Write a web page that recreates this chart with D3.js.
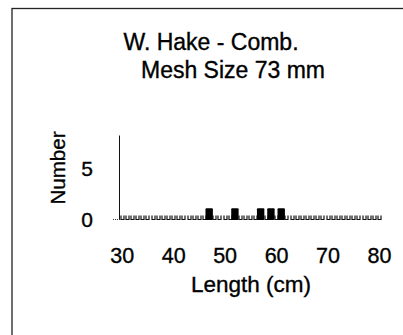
<!DOCTYPE html>
<html>
<head>
<meta charset="utf-8">
<script src="https://cdn.jsdelivr.net/npm/d3@7"></script>
<style>
  body { margin: 0; background: #fff; }
  svg { display: block; font-family: "Liberation Sans", Arial, sans-serif; }
  svg text { fill: #000; stroke: #000; stroke-width: 0.35px; }
</style>
</head>
<body>
<script>
const titleLines = ['W. Hake - Comb.', 'Mesh Size 73 mm'];
const lengths = [30, 31, 32, 33, 34, 35, 36, 37, 38, 39,
                 40, 41, 42, 43, 44, 45, 46, 47, 48, 49,
                 50, 51, 52, 53, 54, 55, 56, 57, 58, 59,
                 60, 61, 62, 63, 64, 65, 66, 67, 68, 69,
                 70, 71, 72, 73, 74, 75, 76, 77, 78, 79,
                 80];
const counts = [0, 0, 0, 0, 0, 0, 0, 0, 0, 0,
                0, 0, 0, 0, 0, 0, 0, 1, 0, 0,
                0, 0, 1, 0, 0, 0, 0, 1, 0, 1,
                0, 1, 0, 0, 0, 0, 0, 0, 0, 0,
                0, 0, 0, 0, 0, 0, 0, 0, 0, 0,
                0];
const xTicks = [30, 40, 50, 60, 70, 80];
const yTicks = [0, 5];

const width = 403;
const height = 335;

const svg = d3.select('body')
  .append('svg')
  .attr('width', width)
  .attr('height', height);

// frame (runs off the right and bottom edges)
svg.append('rect')
  .attr('x', 12)
  .attr('y', 8.5)
  .attr('width', 420)
  .attr('height', 360)
  .attr('fill', 'none')
  .attr('stroke', '#222')
  .attr('stroke-width', 1.3);

const x = d3.scaleLinear().domain([30, 80]).range([121.7, 379]);
const y = d3.scaleLinear().domain([0, 8.2]).range([220, 135.5]);

const data = lengths.map((l, i) => ({ length: l, count: counts[i] }));

// title
svg.selectAll('.title')
  .data(titleLines)
  .enter()
  .append('text')
  .attr('class', 'title')
  .attr('x', (d, i) => i === 0 ? 211 : 233)
  .attr('y', (d, i) => 50 + i * 28)
  .attr('text-anchor', 'middle')
  .attr('font-size', 23)
  .text(d => d);

// y axis
const yAxis = svg.append('g')
  .attr('transform', 'translate(119,0)')
  .call(d3.axisLeft(y).tickValues(yTicks).tickSize(0).tickPadding(26));
yAxis.select('.domain').remove();
yAxis.selectAll('text')
  .attr('font-size', 21);

svg.append('line')
  .attr('x1', 119.5).attr('x2', 119.5)
  .attr('y1', y.range()[1]).attr('y2', y(0))
  .attr('stroke', '#111')
  .attr('stroke-width', 1);

// dotted stub left of the origin
svg.append('line')
  .attr('x1', 113).attr('x2', 120)
  .attr('y1', y(0) - 0.5).attr('y2', y(0) - 0.5)
  .attr('stroke', '#333')
  .attr('stroke-dasharray', '1,1');

// x axis labels
const xAxis = svg.append('g')
  .attr('transform', `translate(0,${ y(0) })`)
  .call(d3.axisBottom(x).tickValues(xTicks).tickSize(0).tickPadding(28));
xAxis.select('.domain').remove();
xAxis.selectAll('text')
  .attr('font-size', 21.5);

// empty bins drawn as tiny open bars
svg.append('g')
  .selectAll('path')
  .data(data.filter(d => d.count === 0))
  .enter()
  .append('path')
  .attr('d', d => {
    const cx = Math.round(x(d.length)) + 0.5;
    return `M${ cx - 1.5 },${ y(0) - 4.5 }V${ y(0) - 0.5 }H${ cx + 1.5 }V${ y(0) - 4.5 }`;
  })
  .attr('fill', 'none')
  .attr('stroke', '#111')
  .attr('stroke-width', 1.2);

// bars
svg.append('g')
  .selectAll('rect')
  .data(data.filter(d => d.count > 0))
  .enter()
  .append('rect')
  .attr('x', d => x(d.length) - 3.7)
  .attr('y', d => y(d.count) - 1.5)
  .attr('width', 7.4)
  .attr('height', d => y(0) - y(d.count) + 1.5)
  .attr('rx', 1)
  .attr('fill', '#000');

// axis titles
svg.append('text')
  .attr('x', 251)
  .attr('y', 292)
  .attr('text-anchor', 'middle')
  .attr('font-size', 22.5)
  .text('Length (cm)');

svg.append('text')
  .attr('transform', 'translate(65,168) rotate(-90)')
  .attr('text-anchor', 'middle')
  .attr('font-size', 20.5)
  .text('Number');
</script>
</body>
</html>
